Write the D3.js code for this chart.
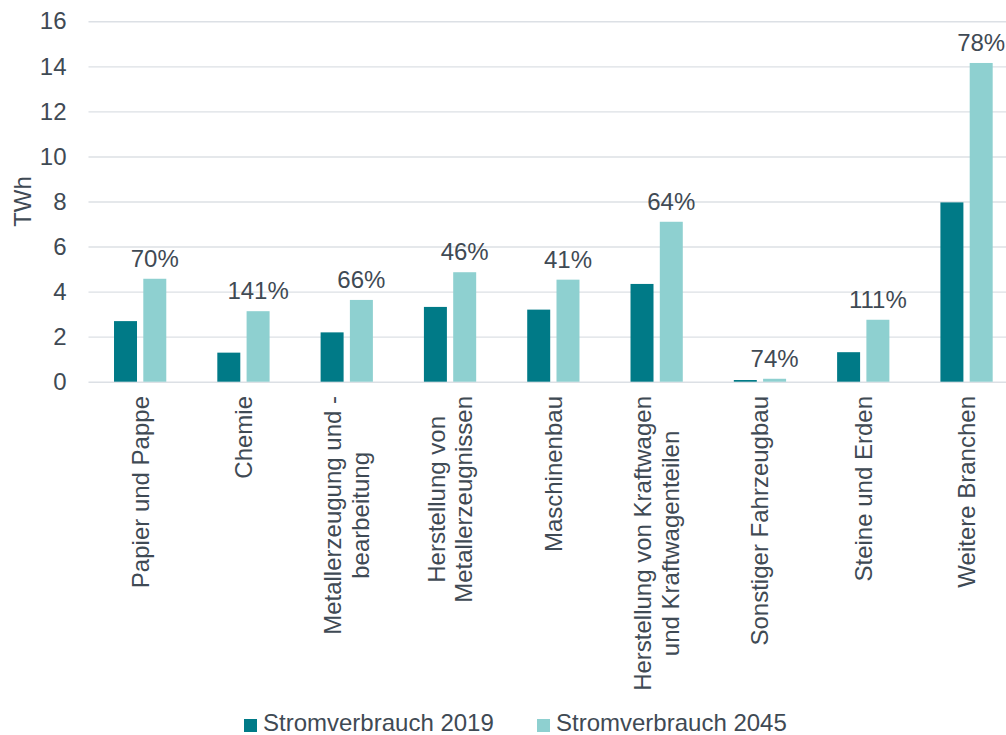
<!DOCTYPE html>
<html>
<head>
<meta charset="utf-8">
<script src="https://cdn.jsdelivr.net/npm/d3@7"></script>
<style>
  body { margin: 0; background: #fff; }
  text { font-family: "Liberation Sans", Arial, sans-serif; fill: #3f4a54; }
</style>
</head>
<body>
<svg id="chart" width="1006" height="735"></svg>
<script>
// data
var categories = [
    ["Papier und Pappe"],
    ["Chemie"],
    ["Metallerzeugung und -", "bearbeitung"],
    ["Herstellung von", "Metallerzeugnissen"],
    ["Maschinenbau"],
    ["Herstellung von Kraftwagen", "und Kraftwagenteilen"],
    ["Sonstiger Fahrzeugbau"],
    ["Steine und Erden"],
    ["Weitere Branchen"]
];
var series = ["Stromverbrauch 2019", "Stromverbrauch 2045"];
var values2019 = [2.69, 1.29, 2.19, 3.32, 3.20, 4.34, 0.075, 1.31, 7.96];
var values2045 = [4.57, 3.13, 3.63, 4.86, 4.53, 7.10, 0.13, 2.75, 14.15];
var growthLabels = ["70%", "141%", "66%", "46%", "41%", "64%", "74%", "111%", "78%"];
var yTicks = [0, 2, 4, 6, 8, 10, 12, 14, 16];
var colors = ["#007a87", "#8ed0d0"];

var svg = d3.select('#chart');
var fontSize = 24;

var x = d3.scaleBand()
    .domain(d3.range(categories.length))
    .range([88.5, 1018.2])
    .paddingInner(0.494)
    .paddingOuter(0.247);

var x1 = d3.scaleBand()
    .domain(series)
    .range([0, x.bandwidth()])
    .paddingInner(0.215);

var y = d3.scaleLinear()
    .domain([0, 16])
    .range([381.7, 21.3]);

// gridlines + y labels
var yAxis = svg.append('g')
    .attr('transform', 'translate(88.5,0)')
    .call(d3.axisLeft(y).tickValues(yTicks).tickSizeInner(-918).tickSizeOuter(0).tickPadding(22));

yAxis.select('.domain').remove();
yAxis.selectAll('line').attr('stroke', '#dce0e5').attr('stroke-width', 1.4);
yAxis.selectAll('text')
    .style('font-size', fontSize + 'px')
    .attr('fill', '#3f4a54');

svg.append('text')
    .attr('transform', 'translate(22.5,' + ((y(0) + y(16)) / 2) + ') rotate(-90)')
    .attr('text-anchor', 'middle')
    .attr('dy', '0.35em')
    .style('font-size', fontSize + 'px')
    .text('TWh');

// bars
var groups = svg.append('g').selectAll('g')
    .data(categories)
    .join('g')
    .attr('transform', function(d, i) { return 'translate(' + x(i) + ',0)'; });

groups.each(function(d, i) {
    var g = d3.select(this);
    var vals = [values2019[i], values2045[i]];
    series.forEach(function(s, k) {
        g.append('rect')
            .attr('x', x1(s))
            .attr('y', y(vals[k]))
            .attr('width', x1.bandwidth())
            .attr('height', y(0) - y(vals[k]))
            .attr('fill', colors[k]);
    });
    g.append('text')
        .attr('x', x1(series[1]) + x1.bandwidth() / 2)
        .attr('y', y(vals[1]) - 12)
        .attr('text-anchor', 'middle')
        .style('font-size', fontSize + 'px')
        .text(growthLabels[i]);
});

// category labels (rotated, multi-line centred)
var lineH = 27.5;
categories.forEach(function(lines, i) {
    var cx = x(i) + x.bandwidth() / 2;
    var g = svg.append('g')
        .attr('transform', 'translate(' + cx + ',396) rotate(-90)');
    var texts = lines.map(function(line, k) {
        return g.append('text')
            .attr('text-anchor', 'middle')
            .attr('y', (k - (lines.length - 1) / 2) * lineH)
            .attr('dy', '0.35em')
            .style('font-size', fontSize + 'px')
            .text(line);
    });
    var maxLen = d3.max(texts, function(t) { return t.node().getComputedTextLength(); });
    texts.forEach(function(t) { t.attr('x', -maxLen / 2); });
});

// legend
var legendX = [244, 537];
series.forEach(function(s, k) {
    svg.append('rect')
        .attr('x', legendX[k])
        .attr('y', 719)
        .attr('width', 13)
        .attr('height', 13)
        .attr('fill', colors[k]);
    svg.append('text')
        .attr('x', legendX[k] + 19)
        .attr('y', 731)
        .style('font-size', fontSize + 'px')
        .text(s);
});
</script>
</body>
</html>
